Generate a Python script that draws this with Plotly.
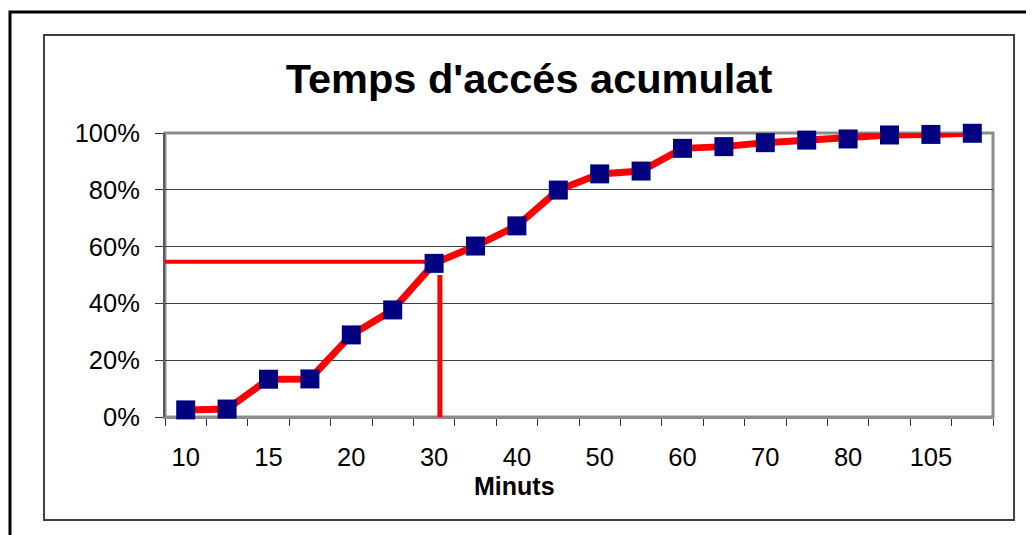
import plotly.graph_objects as go

# ---- data ----
minutes = ["10", "12", "15", "17", "20", "25", "30", "35", "40", "45",
           "50", "55", "60", "65", "70", "75", "80", "90", "105", "120"]
shown_labels = ["10", "", "15", "", "20", "", "30", "", "40", "",
                "50", "", "60", "", "70", "", "80", "", "105", ""]
cumulative = [0.025, 0.028, 0.133, 0.134, 0.289, 0.377, 0.541, 0.602, 0.673, 0.799,
              0.856, 0.866, 0.946, 0.952, 0.966, 0.975, 0.979, 0.993, 0.995, 0.999]
y_ticks = [0, 0.2, 0.4, 0.6, 0.8, 1.0]

# reference (median) guide lines
ref_level = 0.547
ref_x = 6.14
ref_x_top = 0.50

FONT = "Liberation Sans, Arial, sans-serif"

# page has an 8px body margin -> figure is 8px smaller than the window
W, H = 1026, 527

fig = go.Figure()
fig.add_trace(go.Scatter(
    x=minutes, y=cumulative, mode="lines+markers",
    line=dict(color="#FF0000", width=7),
    marker=dict(symbol="square", size=19, color="#000080",
                line=dict(color="#000080", width=0)),
    cliponaxis=False, showlegend=False, hoverinfo="x+y",
))

shapes = [
    # outer border
    dict(type="rect", xref="paper", yref="paper", x0=-0.1872, x1=1.0628,
         y0=-0.4507, y1=1.4261, line=dict(color="#000000", width=3), layer="below"),
    # chart area border
    dict(type="rect", xref="paper", yref="paper", x0=-0.1461, x1=1.0254,
         y0=-0.3627, y1=1.3451, line=dict(color="#404040", width=2), layer="below"),
    # plot area frame
    dict(type="rect", xref="paper", yref="paper", x0=0, x1=1, y0=0, y1=1,
         line=dict(color="#8c8c8c", width=3), layer="between"),
    # reference lines
    dict(type="line", xref="x", yref="y", x0=-0.57, x1=ref_x - 0.02,
         y0=ref_level, y1=ref_level, line=dict(color="#FF0000", width=4), layer="between"),
    dict(type="line", xref="x", yref="y", x0=ref_x, x1=ref_x,
         y0=0, y1=ref_x_top, line=dict(color="#FF0000", width=5), layer="between"),
]

fig.update_layout(
    width=W, height=H,
    margin=dict(l=157, r=41, t=125, b=118),
    paper_bgcolor="white", plot_bgcolor="white",
    font=dict(family=FONT, color="#000000"),
    shapes=shapes,
    title=dict(text="<b>Temps d'accés acumulat</b>", xref="paper", x=0.4396,
               xanchor="center", yref="container", y=1 - 70 / H, yanchor="middle",
               font=dict(size=41.5, family=FONT, color="#000000")),
    annotations=[dict(text="<b>Minuts</b>", xref="paper", yref="paper",
                      x=0.4215, y=-0.243, xanchor="center", yanchor="middle",
                      showarrow=False, font=dict(size=25, family=FONT, color="#000000"))],
)

fig.update_xaxes(
    type="category", categoryorder="array", categoryarray=minutes,
    tickmode="array", tickvals=minutes, ticktext=shown_labels, tickangle=0,
    tickson="boundaries", ticks="outside", ticklen=7, tickwidth=1, tickcolor="#333333",
    showgrid=False, showline=True, linecolor="#8c8c8c", linewidth=2,
    tickfont=dict(size=25.5, family=FONT, color="#000000"),
    ticklabelstandoff=16, range=[-0.5, 19.5], layer="below traces", zeroline=False,
)
fig.update_yaxes(
    range=[0, 1], tickmode="array", tickvals=y_ticks, tickformat=".0%",
    ticks="outside", ticklen=8, tickwidth=1, tickcolor="#333333",
    showgrid=True, gridcolor="#404040", gridwidth=1,
    showline=True, linecolor="#5a5a5a", linewidth=2,
    tickfont=dict(size=25.5, family=FONT, color="#000000"),
    ticklabelstandoff=10, layer="below traces", zeroline=False,
)

fig.write_html("out.html")
